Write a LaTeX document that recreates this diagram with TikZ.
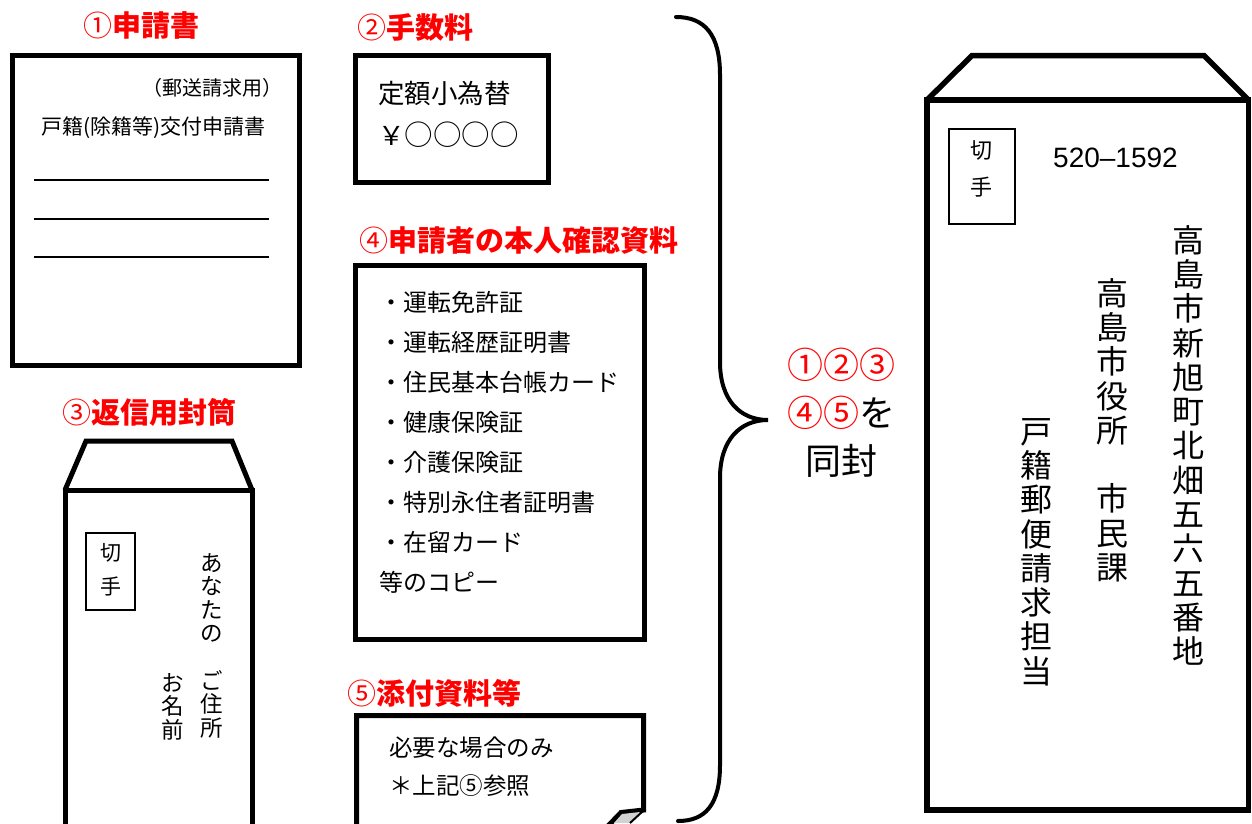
\documentclass[tikz,border=0pt]{standalone}
\usepackage{fontspec}
\setmainfont{Noto Sans CJK JP}
\newfontfamily\latin{Liberation Sans}
\begin{document}
\begin{tikzpicture}[x=1pt,y=-1pt,
  box/.style={line width=5pt,line join=miter},
  thin/.style={line width=1.5pt},
  rule/.style={line width=1.8pt},
  title/.style={inner sep=0pt,anchor=base west,text=red,font=\fontsize{29}{34}\selectfont},
  body/.style={inner sep=0pt,font=\fontsize{#1}{#1}\selectfont},
  vcol/.style 2 args={inner sep=0pt,anchor=north,align=center,font=\fontsize{#1}{#2}\selectfont}]
\useasboundingbox (0,0) rectangle (1252,823);
\clip (0,0) rectangle (1252,823);
% titles
\node[title] (t1) at (83,36) {①\bfseries 申請書};
\node[title] (t2) at (357,38) {②\bfseries 手数料};
\node[title] (t3) at (62,423) {③\bfseries 返信用封筒};
\node[title] (t4) at (359,251) {④\bfseries 申請者の本人確認資料};
\node[title] (t5) at (347,704) {⑤\bfseries 添付資料等};
% box 1
\draw[box] (12.5,55.5) rectangle (299.5,365.5);
\node[body=20,anchor=base west] (b1a) at (142,95) {（郵送請求用）};
\node[body=21,anchor=base west] (b1b) at (41,134) {戸籍(除籍等)交付申請書};
\draw[rule] (34,180) -- (269,180);
\draw[rule] (34,219) -- (269,219);
\draw[rule] (34,257) -- (269,257);
% box 2
\draw[box] (355.5,55.5) rectangle (548.5,182.5);
\node[inner sep=0pt,anchor=north west,align=left,font=\fontsize{26.5}{42}\selectfont] (b2) at (378,81) {定額小為替\\￥{\fontsize{28.5}{28}\selectfont ○○○○}};
% box 4
\draw[box] (355.5,265.5) rectangle (644.5,639.5);
\node[inner sep=0pt,anchor=north west,align=left,font=\fontsize{24}{40}\selectfont] (b4) at (379,291)
 {・運転免許証\\・運転経歴証明書\\・住民基本台帳カード\\・健康保険証\\・介護保険証\\・特別永住者証明書\\・在留カード\\等のコピー};
% box 5
\draw[box] (356.5,830) -- (356.5,715.5) -- (643.5,715.5) -- (643.5,810) -- (621,812.5) -- (608,826);
\fill[gray!35] (640,812) -- (622,814) -- (614,823) -- (630,823) -- cycle;
\draw[line width=2pt] (643,811) -- (630,823);
\node[inner sep=0pt,anchor=north west,align=left,font=\fontsize{23.5}{38}\selectfont] (b5) at (389,736.5) {必要な場合のみ\\＊上記⑤参照};
% return envelope
\draw[box] (65,490) -- (86,441) -- (232,441) -- (252,490);
\draw[box] (65,830) -- (65,490) -- (252,490) -- (252,830);
\draw[thin] (86,533) rectangle (135,610);
\node[vcol={21}{34}] (s1) at (111,543.5) {切\\手};
\node[vcol={22.5}{23.6}] (ad1) at (212,553) {あ\\な\\た\\の\\\phantom{ご}\\ご\\住\\所};
\node[vcol={22.5}{23.6}] (ad2) at (173,673) {お\\名\\前};
% brace
\draw[line width=4pt,line cap=round] (676,17) .. controls (705,17) and (720,35) .. (720,75) -- (720,362)
  .. controls (720,400) and (740,420) .. (768,420)
  .. controls (740,420) and (720,440) .. (720,478) -- (720,765)
  .. controls (720,805) and (705,821) .. (678,821);
\node[inner sep=0pt,anchor=north,align=center,font=\fontsize{36}{48}\selectfont] (enc) at (841,348)
 {\textcolor{red}{①②③}\\\textcolor{red}{④⑤}を\\同封};
% main envelope
\draw[box,line width=5.5pt] (927,100) -- (972,55.5) -- (1204,55.5) -- (1248.5,100);
\draw[box,line width=5.5pt] (927,100) rectangle (1248.5,810);
\draw[thin] (949,129) rectangle (1015,224);
\node[vcol={22}{37}] (s2) at (981,140) {切\\手};
\node[inner sep=0pt,anchor=base west,font=\latin\fontsize{28}{30}\selectfont] (zip) at (1053,167.5) {520–1592};
\node[vcol={32}{34.3}] (a1) at (1188,225) {高\\島\\市\\新\\旭\\町\\北\\畑\\五\\六\\五\\番\\地};
\node[vcol={32}{34.3}] (a2) at (1112,278) {高\\島\\市\\役\\所\\\phantom{市}\\市\\民\\課};
\node[vcol={32}{34.3}] (a3) at (1036,418) {戸\\籍\\郵\\便\\請\\求\\担\\当};
\end{tikzpicture}
\end{document}
